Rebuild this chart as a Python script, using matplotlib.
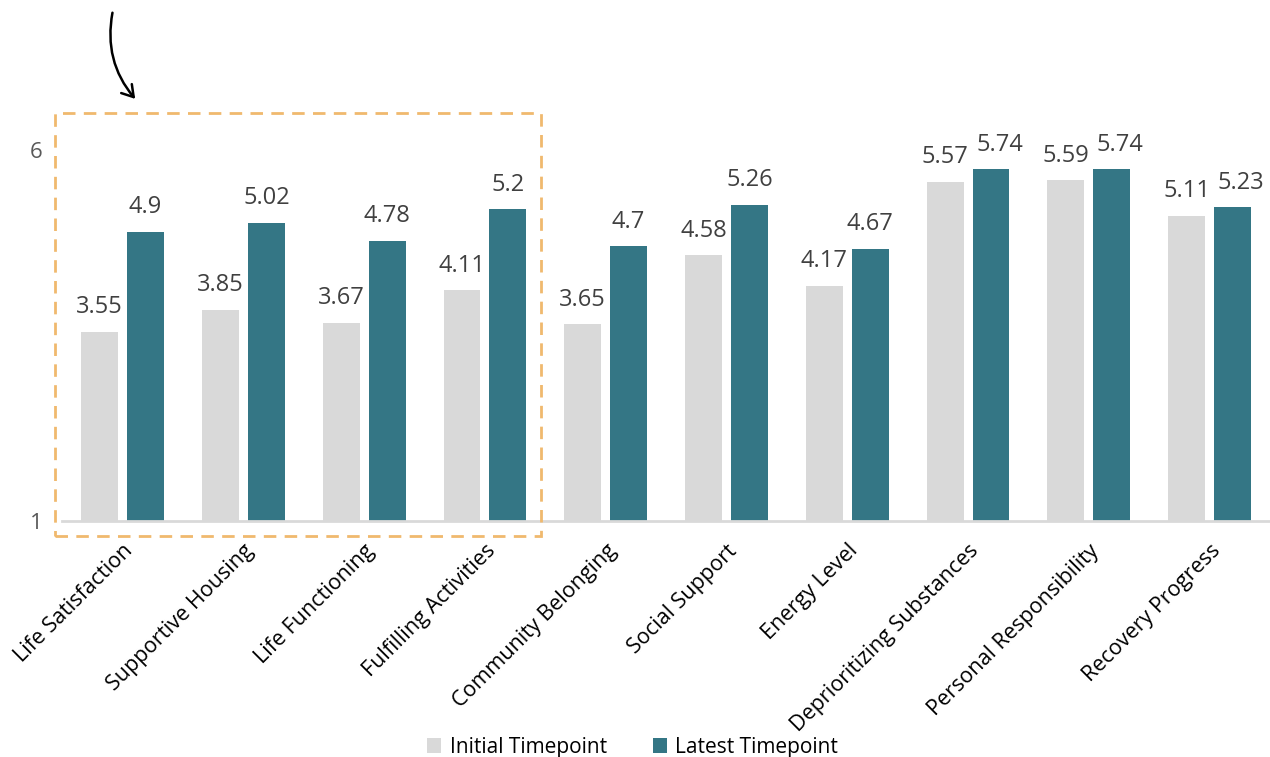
import matplotlib.pyplot as plt
import numpy as np
from matplotlib.patches import Rectangle, FancyArrowPatch

plt.rcParams['font.family'] = ['Open Sans', 'DejaVu Sans']

categories = ['Life Satisfaction', 'Supportive Housing', 'Life Functioning',
              'Fulfilling Activities', 'Community Belonging', 'Social Support',
              'Energy Level', 'Deprioritizing Substances', 'Personal Responsibility',
              'Recovery Progress']
initial = [3.55, 3.85, 3.67, 4.11, 3.65, 4.58, 4.17, 5.57, 5.59, 5.11]
latest = [4.9, 5.02, 4.78, 5.2, 4.7, 5.26, 4.67, 5.74, 5.74, 5.23]

c_init = '#d9d9d9'
c_late = '#347685'

fig = plt.figure(figsize=(12.7, 7.57), dpi=100)
ax = fig.add_axes([0.049, 0.3118, 0.951, 0.5488])

x = np.arange(len(categories))
w = 0.305
off = 0.19
b1 = ax.bar(x - off, np.array(initial) - 1, w, bottom=1, color=c_init, label='Initial Timepoint')
b2 = ax.bar(x + off, np.array(latest) - 1, w, bottom=1, color=c_late, label='Latest Timepoint')

for xi, v, u in zip(x, initial, latest):
    ax.text(xi - off, v + 0.17, f'{v:g}', ha='center', va='bottom', fontsize=17, color='#404040')
    # nudge the latest label right when the two labels would collide
    nudge = 0.07 if abs(u - v) < 0.3 else 0
    ax.text(xi + off + nudge, u + 0.17, f'{u:g}', ha='center', va='bottom', fontsize=17, color='#404040')

ax.set_xlim(-0.5, 9.5)
ax.set_ylim(1, 6.6)
ax.set_yticks([1, 6])
ax.tick_params(axis='y', length=0, labelsize=16, labelcolor='#595959', pad=14)
ax.set_xticks(x)
ax.set_xticklabels(categories, rotation=45, ha='right', rotation_mode='anchor', fontsize=15.5)
ax.tick_params(axis='x', length=0, pad=14)
for s in ['top', 'right', 'left']:
    ax.spines[s].set_visible(False)
ax.spines['bottom'].set_color('#d9d9d9')
ax.spines['bottom'].set_linewidth(2)

# dashed highlight box (pixel coordinates)
W, H = 1270, 757
box = Rectangle((55 / W, 1 - 536 / H), (541 - 55) / W, (536 - 113) / H,
                transform=fig.transFigure, fill=False, edgecolor='#f0b96e',
                linewidth=2, linestyle=(0, (4.5, 3)))
fig.add_artist(box)

arrow = FancyArrowPatch((113 / W, 1 - 10 / H), (137 / W, 1 - 101 / H),
                        transform=fig.transFigure, connectionstyle='arc3,rad=0.25',
                        arrowstyle='->,head_length=8,head_width=5', color='black', lw=1.8)
fig.add_artist(arrow)

fig.legend(handles=[b1, b2], loc='center', bbox_to_anchor=(0.498, 1 - 747 / H),
           ncol=2, frameon=False, fontsize=15, handlelength=0.7, handleheight=0.7,
           handletextpad=0.4, columnspacing=2.2)

fig.savefig('out.png', dpi=100)
